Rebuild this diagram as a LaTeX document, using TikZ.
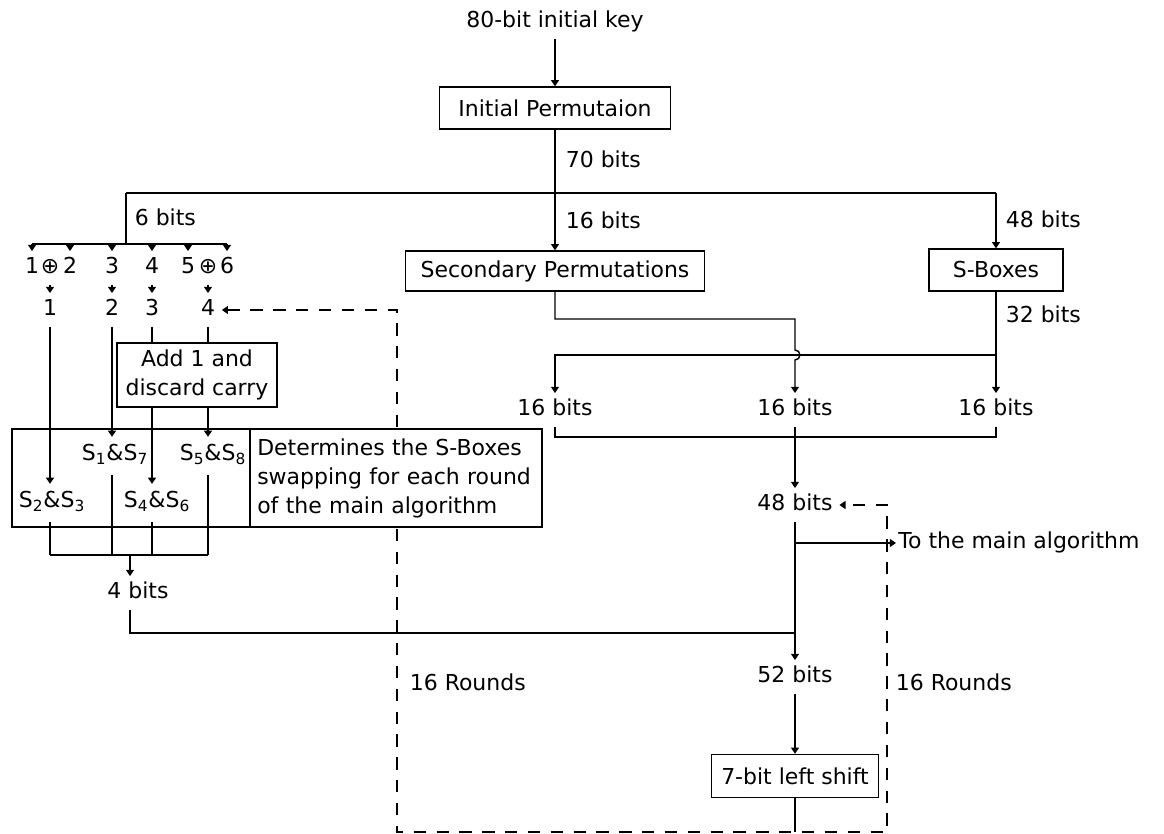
\documentclass[tikz,border=0pt]{standalone}
\usepackage{fontspec}
\setmainfont{DejaVu Sans}
\usetikzlibrary{arrows.meta,calc,backgrounds}

\begin{document}
\begin{tikzpicture}[x=0.02cm, y=-0.02cm, >={Triangle[length=3.5pt,width=4.5pt]},
   line width=0.8pt, font=\fontsize{12.5}{16.5}\selectfont,
   box/.style={draw, fill=white, inner sep=2pt},
   lbl/.style={inner sep=3.5pt, text height=9pt, text depth=2.5pt},
   sl/.style={inner xsep=1pt, inner ysep=4pt, text height=9pt, text depth=4pt},
   loopln/.style={line width=0.8pt, dash pattern=on 7pt off 6pt}]
  \useasboundingbox (0,0) rectangle (1164,834);

  \node[lbl] (key) at (555,22) {80-bit initial key};
  \node[box, minimum width=4.62cm, minimum height=0.84cm] (ip) at (555,108) {Initial Permutaion};
  \node[lbl, anchor=west] (l70) at (559,162) {70 bits};
  \node[lbl, anchor=west] (l6) at (128,220) {6 bits};
  \node[lbl, anchor=west] (l16a) at (559,223) {16 bits};
  \node[lbl, anchor=west] (l48a) at (999,222) {48 bits};

  \node[lbl] (b1) at (32,268) {1};
  \node[lbl] (x12) at (50,268) {⊕};
  \node[lbl] (b2) at (70,268) {2};
  \node[lbl] (b3) at (112,268) {3};
  \node[lbl] (b4) at (152,268) {4};
  \node[lbl] (b5) at (188,268) {5};
  \node[lbl] (x56) at (208,268) {⊕};
  \node[lbl] (b6) at (227,268) {6};
  \node[lbl] (c1) at (50,310) {1};
  \node[lbl] (c2) at (112,310) {2};
  \node[lbl] (c3) at (152,310) {3};
  \node[lbl] (c4) at (208,310) {4};

  \node[box, minimum width=3.2cm, minimum height=1.28cm, align=center] (add) at (197,375) {Add 1 and\\discard carry};
  \node[box, minimum width=4.76cm, minimum height=1.96cm] (sbox) at (131,478) {};
  \node[box, minimum width=5.84cm, minimum height=1.96cm, text width=5.55cm, align=left] (det) at (396,478)
    {Determines the S-Boxes\\swapping for each round\\of the main algorithm};
  \node[sl] (s17) at (115,456) {S\textsubscript{1}\&S\textsubscript{7}};
  \node[sl] (s58) at (213,456) {S\textsubscript{5}\&S\textsubscript{8}};
  \node[sl] (s23) at (52,503) {S\textsubscript{2}\&S\textsubscript{3}};
  \node[sl] (s46) at (157,503) {S\textsubscript{4}\&S\textsubscript{6}};
  \node[lbl] (bits4) at (138,593) {4 bits};

  \node[box, minimum width=5.98cm, minimum height=0.8cm] (sp) at (555,271) {Secondary Permutations};
  \node[box, minimum width=2.68cm, minimum height=0.84cm] (sbx) at (996,270) {S-Boxes};
  \node[lbl, anchor=west] (l32) at (999,317) {32 bits};
  \node[lbl] (l16) at (555,410) {16 bits};
  \node[lbl] (m16) at (795,410) {16 bits};
  \node[lbl] (r16) at (996,410) {16 bits};
  \node[lbl] (b48) at (795,505) {48 bits};
  \node[lbl, anchor=west, inner xsep=1pt] (tomain) at (896,543) {To the main algorithm};
  \node[lbl] (n52) at (795,677) {52 bits};
  \node[box, minimum width=3.34cm, minimum height=0.86cm] (shift) at (795,776) {7-bit left shift};
  \node[lbl, anchor=west] (rnd1) at (403,685) {16 Rounds};
  \node[lbl, anchor=west] (rnd2) at (889,685) {16 Rounds};

  \coordinate (split) at (555,193);
  \coordinate (lsplit) at (126,193);
  \coordinate (rtop) at (996,193);
  \coordinate (bus) at (126,244);
  \coordinate (jog) at (795,319);
  \coordinate (rsplit) at (996,355);
  \coordinate (mjoin) at (795,437);
  \coordinate (sbus) at (130,555);
  \coordinate (j52) at (795,633);
  \coordinate (dl) at (397,832);
  \coordinate (dr) at (887,832);

  \draw[->] (key) -- (ip);
  \draw (ip) -- (split);
  \draw (lsplit) -- (rtop);
  \draw[->] (split) -- (sp);
  \draw[->] (rtop) -- (sbx);
  \draw (lsplit) -- (bus);
  \draw (b1 |- bus) -- (b6 |- bus);
  \foreach \n in {b1,b2,b3,b4,b5,b6} \draw[->] (\n |- bus) -- (\n);
  \draw[->] (x12) -- (c1);
  \draw[->] (b3) -- (c2);
  \draw[->] (b4) -- (c3);
  \draw[->] (x56) -- (c4);
  \draw (c3) -- (c3 |- add.north);
  \draw (c4) -- (c4 |- add.north);
  \draw[->] (c1) -- (c1 |- s23.north);
  \draw[->] (c2) -- (c2 |- s17.north);
  \draw[->] (c3 |- add.south) -- (c3 |- s46.north);
  \draw[->] (c4 |- add.south) -- (c4 |- s58.north);
  \foreach \n/\s in {c1/s23,c2/s17,c3/s46,c4/s58} \draw (\n |- \s.south) -- (\n |- sbus);
  \draw (c1 |- sbus) -- (c4 |- sbus);
  \draw[->] (sbus) -- (sbus |- bits4.north);
  \draw (sbus |- bits4.south) |- (j52);

  \draw[->] (sp) |- (jog) -- ++(0,31) arc[start angle=90, end angle=-90, radius=0.1cm] -- (m16);
  \draw[->] (sbx) -- (r16);
  \draw[->] (rsplit) -| (l16);
  \draw (l16) |- (mjoin) -| (r16);
  \draw[->] (m16) -- (b48);
  \draw[->] (b48) -- (n52);
  \draw[->] (b48 |- tomain) -- (tomain);
  \draw[->] (n52) -- (shift);
  \draw (shift) -- (shift |- dl);
  \begin{scope}[on background layer]
    \draw[loopln, <->] (c4) -- (c4 -| dl) -- (dl) -- (dr) -- (dr |- b48) -- (b48);
  \end{scope}
\end{tikzpicture}
\end{document}
